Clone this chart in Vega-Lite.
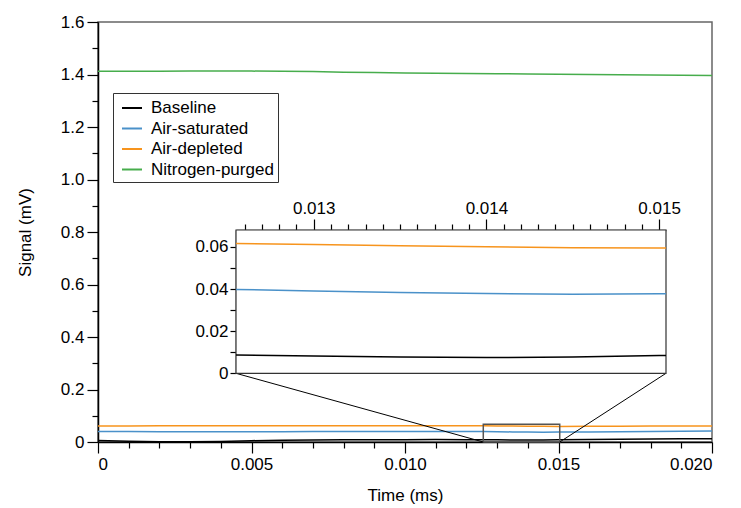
{
  "$schema": "https://vega.github.io/schema/vega-lite/v6.json",
  "width": 614,
  "height": 420,
  "autosize": {"type": "none"},
  "padding": {"left": 98, "top": 22, "right": 29, "bottom": 66},
  "background": "white",
  "config": {
    "view": {"stroke": "#666666", "strokeWidth": 1.5},
    "font": "Liberation Sans",
    "axis": {
      "grid": false,
      "labelFont": "Liberation Sans",
      "labelFontSize": 17,
      "labelColor": "black",
      "titleFont": "Liberation Sans",
      "titleFontSize": 17,
      "titleFontWeight": "normal",
      "titleColor": "black",
      "domainColor": "black",
      "tickColor": "black",
      "domainWidth": 1.5,
      "tickWidth": 1.2
    },
    "legend": {
      "orient": "none",
      "legendX": 15,
      "legendY": 71,
      "symbolType": "stroke",
      "symbolSize": 400,
      "symbolStrokeWidth": 2,
      "labelFont": "Liberation Sans",
      "labelFontSize": 17,
      "labelColor": "black",
      "strokeColor": "#333333",
      "fillColor": "white",
      "padding": 4,
      "symbolOffset": 4,
      "rowPadding": 1.5,
      "labelOffset": 8
    }
  },
  "datasets": {
    "signal": [
      {"series": "Baseline", "t": 0, "v": 0.006},
      {"series": "Baseline", "t": 0.001, "v": 0.003},
      {"series": "Baseline", "t": 0.002, "v": 0.001},
      {"series": "Baseline", "t": 0.003, "v": 0.0008},
      {"series": "Baseline", "t": 0.004, "v": 0.002},
      {"series": "Baseline", "t": 0.005, "v": 0.005},
      {"series": "Baseline", "t": 0.006, "v": 0.007},
      {"series": "Baseline", "t": 0.007, "v": 0.008},
      {"series": "Baseline", "t": 0.008, "v": 0.0085},
      {"series": "Baseline", "t": 0.009, "v": 0.009},
      {"series": "Baseline", "t": 0.010, "v": 0.009},
      {"series": "Baseline", "t": 0.011, "v": 0.0092},
      {"series": "Baseline", "t": 0.012, "v": 0.009},
      {"series": "Baseline", "t": 0.01255, "v": 0.0087},
      {"series": "Baseline", "t": 0.013, "v": 0.0082},
      {"series": "Baseline", "t": 0.0135, "v": 0.0077},
      {"series": "Baseline", "t": 0.014, "v": 0.0075},
      {"series": "Baseline", "t": 0.0145, "v": 0.0077},
      {"series": "Baseline", "t": 0.015, "v": 0.0084},
      {"series": "Baseline", "t": 0.01504, "v": 0.0085},
      {"series": "Baseline", "t": 0.016, "v": 0.0095},
      {"series": "Baseline", "t": 0.017, "v": 0.0105},
      {"series": "Baseline", "t": 0.018, "v": 0.0115},
      {"series": "Baseline", "t": 0.019, "v": 0.012},
      {"series": "Baseline", "t": 0.020, "v": 0.0125},
      {"series": "Air-saturated", "t": 0, "v": 0.0400},
      {"series": "Air-saturated", "t": 0.001, "v": 0.0398},
      {"series": "Air-saturated", "t": 0.002, "v": 0.0395},
      {"series": "Air-saturated", "t": 0.003, "v": 0.0392},
      {"series": "Air-saturated", "t": 0.004, "v": 0.0390},
      {"series": "Air-saturated", "t": 0.005, "v": 0.0392},
      {"series": "Air-saturated", "t": 0.006, "v": 0.0395},
      {"series": "Air-saturated", "t": 0.007, "v": 0.0398},
      {"series": "Air-saturated", "t": 0.008, "v": 0.0400},
      {"series": "Air-saturated", "t": 0.009, "v": 0.0401},
      {"series": "Air-saturated", "t": 0.010, "v": 0.0402},
      {"series": "Air-saturated", "t": 0.011, "v": 0.0401},
      {"series": "Air-saturated", "t": 0.012, "v": 0.0400},
      {"series": "Air-saturated", "t": 0.01255, "v": 0.0398},
      {"series": "Air-saturated", "t": 0.013, "v": 0.0391},
      {"series": "Air-saturated", "t": 0.0135, "v": 0.0384},
      {"series": "Air-saturated", "t": 0.014, "v": 0.0379},
      {"series": "Air-saturated", "t": 0.0145, "v": 0.0375},
      {"series": "Air-saturated", "t": 0.015, "v": 0.0377},
      {"series": "Air-saturated", "t": 0.01504, "v": 0.0377},
      {"series": "Air-saturated", "t": 0.016, "v": 0.0385},
      {"series": "Air-saturated", "t": 0.017, "v": 0.0395},
      {"series": "Air-saturated", "t": 0.018, "v": 0.0403},
      {"series": "Air-saturated", "t": 0.019, "v": 0.0410},
      {"series": "Air-saturated", "t": 0.020, "v": 0.0415},
      {"series": "Air-depleted", "t": 0, "v": 0.0612},
      {"series": "Air-depleted", "t": 0.001, "v": 0.0614},
      {"series": "Air-depleted", "t": 0.002, "v": 0.0615},
      {"series": "Air-depleted", "t": 0.003, "v": 0.0616},
      {"series": "Air-depleted", "t": 0.004, "v": 0.0616},
      {"series": "Air-depleted", "t": 0.005, "v": 0.0616},
      {"series": "Air-depleted", "t": 0.006, "v": 0.0616},
      {"series": "Air-depleted", "t": 0.007, "v": 0.0616},
      {"series": "Air-depleted", "t": 0.008, "v": 0.0617},
      {"series": "Air-depleted", "t": 0.009, "v": 0.0617},
      {"series": "Air-depleted", "t": 0.010, "v": 0.0617},
      {"series": "Air-depleted", "t": 0.011, "v": 0.0617},
      {"series": "Air-depleted", "t": 0.012, "v": 0.0616},
      {"series": "Air-depleted", "t": 0.01255, "v": 0.0616},
      {"series": "Air-depleted", "t": 0.013, "v": 0.0611},
      {"series": "Air-depleted", "t": 0.0135, "v": 0.0605},
      {"series": "Air-depleted", "t": 0.014, "v": 0.0600},
      {"series": "Air-depleted", "t": 0.0145, "v": 0.0596},
      {"series": "Air-depleted", "t": 0.015, "v": 0.0595},
      {"series": "Air-depleted", "t": 0.01504, "v": 0.0595},
      {"series": "Air-depleted", "t": 0.016, "v": 0.0598},
      {"series": "Air-depleted", "t": 0.017, "v": 0.0603},
      {"series": "Air-depleted", "t": 0.018, "v": 0.0608},
      {"series": "Air-depleted", "t": 0.019, "v": 0.0611},
      {"series": "Air-depleted", "t": 0.020, "v": 0.0612},
      {"series": "Nitrogen-purged", "t": 0, "v": 1.412},
      {"series": "Nitrogen-purged", "t": 0.001, "v": 1.412},
      {"series": "Nitrogen-purged", "t": 0.002, "v": 1.412},
      {"series": "Nitrogen-purged", "t": 0.003, "v": 1.413},
      {"series": "Nitrogen-purged", "t": 0.004, "v": 1.413},
      {"series": "Nitrogen-purged", "t": 0.005, "v": 1.413},
      {"series": "Nitrogen-purged", "t": 0.006, "v": 1.412},
      {"series": "Nitrogen-purged", "t": 0.007, "v": 1.411},
      {"series": "Nitrogen-purged", "t": 0.008, "v": 1.409},
      {"series": "Nitrogen-purged", "t": 0.009, "v": 1.408},
      {"series": "Nitrogen-purged", "t": 0.010, "v": 1.406},
      {"series": "Nitrogen-purged", "t": 0.011, "v": 1.405},
      {"series": "Nitrogen-purged", "t": 0.012, "v": 1.404},
      {"series": "Nitrogen-purged", "t": 0.013, "v": 1.403},
      {"series": "Nitrogen-purged", "t": 0.014, "v": 1.402},
      {"series": "Nitrogen-purged", "t": 0.015, "v": 1.401},
      {"series": "Nitrogen-purged", "t": 0.016, "v": 1.400},
      {"series": "Nitrogen-purged", "t": 0.017, "v": 1.399},
      {"series": "Nitrogen-purged", "t": 0.018, "v": 1.398},
      {"series": "Nitrogen-purged", "t": 0.019, "v": 1.397},
      {"series": "Nitrogen-purged", "t": 0.020, "v": 1.396}
    ]
  },
  "layer": [
    {
      "layer": [
        {
          "data": {"name": "signal"},
          "mark": {"type": "line", "strokeWidth": 1.5, "clip": true},
          "encoding": {
            "x": {
              "field": "t", "type": "quantitative",
              "scale": {"domain": [0, 0.02], "nice": false, "zero": false},
              "axis": {
                "orient": "bottom",
                "values": [0, 0.005, 0.01, 0.015, 0.02],
                "tickSize": 11, "labelPadding": 3,
                "labelExpr": "datum.value == 0 ? '0' : format(datum.value, '.3f')",
                "title": "Time (ms)",
                "titleX": 307, "titleY": 53,
                "titleBaseline": "middle", "titleAlign": "center"
              }
            },
            "y": {
              "field": "v", "type": "quantitative",
              "scale": {"domain": [0, 1.6], "nice": false},
              "axis": {
                "orient": "left",
                "values": [0, 0.2, 0.4, 0.6, 0.8, 1.0, 1.2, 1.4, 1.6],
                "tickSize": 11, "labelPadding": 3,
                "labelExpr": "datum.value == 0 ? '0' : format(datum.value, '.1f')",
                "title": "Signal (mV)",
                "titleX": -73, "titleY": 210, "titleAngle": 270,
                "titleBaseline": "middle", "titleAlign": "center"
              }
            },
            "color": {
              "field": "series", "type": "nominal",
              "scale": {
                "domain": ["Baseline", "Air-saturated", "Air-depleted", "Nitrogen-purged"],
                "range": ["#000000", "#4a91c9", "#f7941d", "#47ad4c"]
              },
              "legend": {"title": null}
            }
          }
        },
        {
          "data": {"values": [{"x1": 0.01255, "x2": 0.01504, "y1": 0, "y2": 0.068}]},
          "mark": {"type": "rect", "fillOpacity": 0, "stroke": "#555555", "strokeWidth": 1.5},
          "encoding": {
            "x": {
              "field": "x1", "type": "quantitative",
              "axis": {
                "orient": "bottom", "domain": false, "labels": false, "title": null, "tickSize": 6,
                "values": [0.001, 0.002, 0.003, 0.004, 0.006, 0.007, 0.008, 0.009, 0.011, 0.012, 0.013, 0.014, 0.016, 0.017, 0.018, 0.019]
              }
            },
            "x2": {"field": "x2"},
            "y": {
              "field": "y1", "type": "quantitative",
              "axis": {
                "orient": "left", "domain": false, "labels": false, "title": null, "tickSize": 6,
                "values": [0.1, 0.3, 0.5, 0.7, 0.9, 1.1, 1.3, 1.5]
              }
            },
            "y2": {"field": "y2"}
          }
        },
        {
          "data": {"values": [
            {"x1": 0.01255, "y1": 0, "x2": 0.004495, "y2": 0.2617},
            {"x1": 0.01504, "y1": 0, "x2": 0.018502, "y2": 0.2617}
          ]},
          "mark": {"type": "rule", "color": "black", "strokeWidth": 1},
          "encoding": {
            "x": {"field": "x1", "type": "quantitative", "axis": null},
            "y": {"field": "y1", "type": "quantitative", "axis": null},
            "x2": {"field": "x2"},
            "y2": {"field": "y2"}
          }
        }
      ],
      "resolve": {"axis": {"x": "independent", "y": "independent"}}
    },
    {
      "layer": [
        {
          "data": {"values": [{"x1": 0.01255, "x2": 0.01504, "y1": 0, "y2": 0.068}]},
          "mark": {"type": "rect", "fill": "white", "stroke": "#333333", "strokeWidth": 1.2},
          "encoding": {
            "x": {
              "field": "x1", "type": "quantitative",
              "scale": {"domain": [0.01255, 0.01504], "range": [138, 568], "nice": false, "zero": false},
              "axis": {
                "orient": "top", "offset": -208, "domain": false, "labels": false, "title": null, "tickSize": 6,
                "values": [0.0126, 0.0127, 0.0128, 0.0129, 0.0131, 0.0132, 0.0133, 0.0134, 0.0135, 0.0136, 0.0137, 0.0138, 0.0139, 0.0141, 0.0142, 0.0143, 0.0144, 0.0145, 0.0146, 0.0147, 0.0148, 0.0149]
              }
            },
            "x2": {"field": "x2"},
            "y": {
              "field": "y1", "type": "quantitative",
              "scale": {"domain": [0, 0.068], "range": [351.3, 208], "nice": false},
              "axis": {
                "orient": "left", "offset": -138, "domain": false, "labels": false, "title": null, "tickSize": 6,
                "values": [0.01, 0.03, 0.05]
              }
            },
            "y2": {"field": "y2"}
          }
        },
        {
          "data": {"name": "signal"},
          "transform": [{"filter": "datum.series != 'Nitrogen-purged' && datum.t >= 0.01255 && datum.t <= 0.01504"}],
          "mark": {"type": "line", "strokeWidth": 1.5},
          "encoding": {
            "x": {
              "field": "t", "type": "quantitative",
              "axis": {
                "orient": "top", "offset": -208, "domainColor": "#555555", "title": null,
                "tickSize": 11, "labelPadding": 2, "format": ".3f",
                "values": [0.013, 0.014, 0.015]
              }
            },
            "y": {
              "field": "v", "type": "quantitative",
              "axis": {
                "orient": "left", "offset": -138, "domainColor": "#555555", "title": null,
                "tickSize": 6, "labelPadding": 2,
                "labelExpr": "datum.value == 0 ? '0' : format(datum.value, '.2f')",
                "values": [0, 0.02, 0.04, 0.06]
              }
            },
            "color": {"field": "series", "type": "nominal", "legend": null}
          }
        }
      ],
      "resolve": {"axis": {"x": "independent", "y": "independent"}}
    }
  ],
  "resolve": {"scale": {"x": "independent", "y": "independent"}}
}
